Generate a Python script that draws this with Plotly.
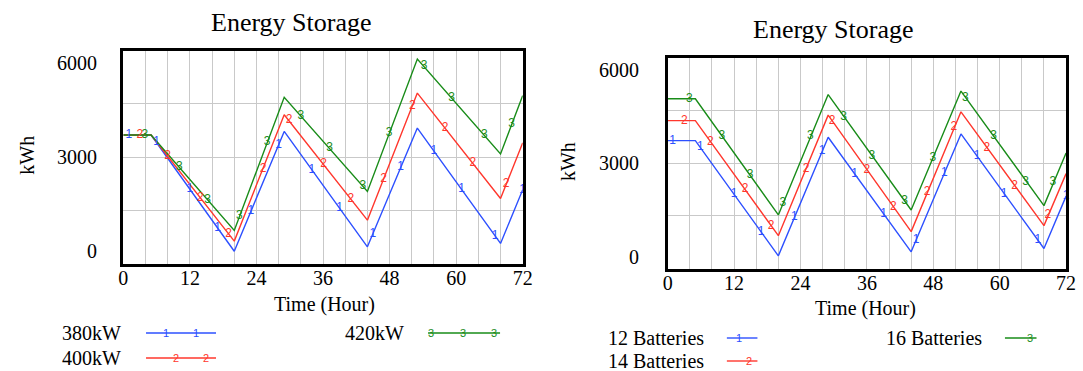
import plotly.graph_objects as go

# ---------------- data ----------------
hours = [0, 5, 20, 29, 44, 53, 68, 72]

# left chart: charging power scenarios
kw380 = [3620, 3620, 345, 3720, 470, 3815, 565, 2080]
kw400 = [3620, 3620, 630, 4190, 1220, 4800, 1830, 3400]
kw420 = [3620, 3620, 930, 4680, 2030, 5760, 3085, 4730]

# right chart: number of batteries scenarios
bat12 = [3640, 3640, 360, 3735, 475, 3830, 570, 2060]
bat14 = [4210, 4210, 935, 4365, 1050, 4460, 1220, 2700]
bat16 = [4830, 4830, 1525, 4950, 1665, 5050, 1790, 3290]

# number markers drawn along the lines (hour, value)
m380_h = [1, 6, 12, 17, 23, 28, 34, 39, 45, 50, 56, 61, 67, 72]
m380_v = [3620, 3410, 2095, 1000, 1470, 3345, 2640, 1555, 830, 2715, 3180, 2100, 775, 2080]
m400_h = [3, 8, 13.9, 19, 25.2, 29.9, 36.1, 41, 46.9, 52.1, 58, 63, 69]
m400_v = [3620, 3020, 1840, 825, 2670, 4030, 2800, 1825, 2385, 4430, 3810, 2825, 2240]
m420_h = [3.9, 10.1, 15.2, 20.9, 25.9, 32, 37.2, 43.2, 47.9, 54.2, 59.2, 65.1, 70]
m420_v = [3620, 2705, 1800, 1330, 3410, 4160, 3240, 2190, 3670, 5565, 4665, 3610, 3930]

m12_h = [0.9, 5.9, 12, 16.9, 22.9, 27.9, 33.8, 39, 44.9, 50, 55.9, 60.8, 66.9, 72]
m12_v = [3640, 3445, 2110, 1040, 1460, 3330, 2680, 1560, 810, 2720, 3205, 2120, 810, 2060]
m14_h = [3, 7.7, 14, 18.7, 25, 29.7, 36, 40.8, 46.9, 51.7, 57.7, 62.7, 68.7]
m14_v = [4210, 3600, 2250, 1200, 2840, 4190, 2815, 1740, 2190, 4030, 3420, 2340, 1510]
m16_h = [3.9, 9.8, 14.9, 20.8, 25.8, 31.8, 36.9, 42.8, 47.9, 53.8, 58.9, 64.7, 69.6]
m16_v = [4830, 3770, 2650, 1870, 3770, 4320, 3210, 1920, 3150, 4865, 3770, 2470, 2450]

left_names = ["380kW", "400kW", "420kW"]
right_names = ["12 Batteries", "14 Batteries", "16 Batteries"]
title_text = "Energy Storage"
y_title = "kWh"
x_title = "Time (Hour)"
x_ticks = list(range(0, 73, 4))
x_ticktext = [str(v) if v % 12 == 0 else "" for v in x_ticks]
y_grid = [0, 1500, 3000, 4500, 6000]
y_label_text = ["0", "3000", "6000"]
y_label_pos = [340, 3000, 5650]

# ---------------- styling ----------------
W, H = 1083, 371
BLUE = "rgb(45,80,255)"
RED = "rgb(255,55,45)"
GREEN = "rgb(25,140,25)"
SERIF = "Liberation Serif, Times New Roman, serif"
GRID = "#c9c9c9"


def px(x):
    return x / W


def py(y):
    return 1 - y / H


fig = go.Figure()

left = [(kw380, m380_h, m380_v, BLUE, "1"),
        (kw400, m400_h, m400_v, RED, "2"),
        (kw420, m420_h, m420_v, GREEN, "3")]
right = [(bat12, m12_h, m12_v, BLUE, "1"),
         (bat14, m14_h, m14_v, RED, "2"),
         (bat16, m16_h, m16_v, GREEN, "3")]

for series, axes in ((left, ("x", "y")), (right, ("x2", "y2"))):
    for vals, mh, mv, col, lab in series:
        fig.add_trace(go.Scatter(x=hours, y=vals, mode="lines",
                                 line=dict(color=col, width=1.4),
                                 xaxis=axes[0], yaxis=axes[1],
                                 showlegend=False, hoverinfo="skip"))
    for vals, mh, mv, col, lab in series:
        fig.add_trace(go.Scatter(x=mh, y=mv, mode="text", text=[lab] * len(mh),
                                 textfont=dict(color=col, size=12, family="Liberation Sans, Arial"),
                                 textposition="middle center", cliponaxis=False,
                                 xaxis=axes[0], yaxis=axes[1],
                                 showlegend=False, hoverinfo="skip"))

axis_common = dict(showline=True, mirror=True, linecolor="black", linewidth=2.5,
                   zeroline=False, showgrid=True, gridcolor=GRID, gridwidth=1,
                   ticks="", tickfont=dict(family=SERIF, size=20, color="black"))

frames = {
    "L": dict(x0=120, x1=525, y0=50.5, y1=263.5),
    "R": dict(x0=672, x1=1076, y0=57.7, y1=268.5),
}

fig.update_layout(
    width=W, height=H, autosize=False,
    margin=dict(l=0, r=0, t=0, b=0),
    paper_bgcolor="white", plot_bgcolor="white",
    xaxis=dict(domain=[px(frames["L"]["x0"]), px(frames["L"]["x1"])], range=[0, 72],
               tickmode="array", tickvals=x_ticks, ticktext=x_ticktext, anchor="y",
               ticklabelstandoff=-5, **axis_common),
    yaxis=dict(domain=[py(frames["L"]["y1"]), py(frames["L"]["y0"])], range=[0, 6000],
               tickmode="array", tickvals=y_grid, ticktext=[""] * len(y_grid), anchor="x", **axis_common),
    xaxis2=dict(domain=[px(frames["R"]["x0"]), px(frames["R"]["x1"])], range=[0, 72],
                tickmode="array", tickvals=x_ticks, ticktext=x_ticktext, anchor="y2",
                ticklabelstandoff=-5, **axis_common),
    yaxis2=dict(domain=[py(frames["R"]["y1"]), py(frames["R"]["y0"])], range=[0, 6000],
                tickmode="array", tickvals=y_grid, ticktext=[""] * len(y_grid), anchor="x2", **axis_common),
)

ann = []
shapes = []


def text(x, y, s, size=20, xanchor="center", angle=0, color="black", family=SERIF, xref="paper", yref="paper"):
    ann.append(dict(x=x, y=y, xref=xref, yref=yref, text=s, showarrow=False,
                    xanchor=xanchor, yanchor="middle", textangle=angle,
                    font=dict(family=family, size=size, color=color)))


# y tick labels
for lab, pos in zip(y_label_text, y_label_pos):
    text(px(frames["L"]["x0"] - 25), pos, lab, xanchor="right", yref="y")
    text(px(frames["R"]["x0"] - 27), pos, lab, xanchor="right", yref="y2")

# titles and axis titles
text(px(291), py(22), title_text, size=26)
text(px(840), py(29), title_text, size=26)
text(px(22), py(155), y_title, angle=-90)
text(px(571), py(162), y_title, angle=-90)
text(px(324), py(304), x_title)
text(px(873), py(308), x_title)

# legends
leg_left = [(left_names[0], 56, 333, 143, 214, [163, 194], BLUE, "1"),
            (left_names[1], 56, 358, 143, 214, [173, 204], RED, "2"),
            (left_names[2], 343, 333, 429, 502, [432, 464, 496], GREEN, "3")]
leg_right = [(right_names[0], 609, 338, 732, 763, [744], BLUE, "1"),
             (right_names[1], 609, 361, 732, 763, [754], RED, "2"),
             (right_names[2], 891, 338, 1014, 1046, [1039], GREEN, "3")]
for name, tx, ty, lx0, lx1, mks, col, lab in leg_left + leg_right:
    text(px(tx), py(ty), name, xanchor="left")
    shapes.append(dict(type="line", xref="paper", yref="paper",
                       x0=px(lx0), x1=px(lx1), y0=py(ty), y1=py(ty),
                       line=dict(color=col, width=1.4)))
    for mx in mks:
        text(px(mx), py(ty), lab, size=11, color=col, family="Liberation Sans, Arial")

fig.update_layout(annotations=ann, shapes=shapes)

fig.write_html("out.html", config={"displayModeBar": False},
               post_script="document.body.style.margin='0px';document.body.style.overflow='hidden';")
